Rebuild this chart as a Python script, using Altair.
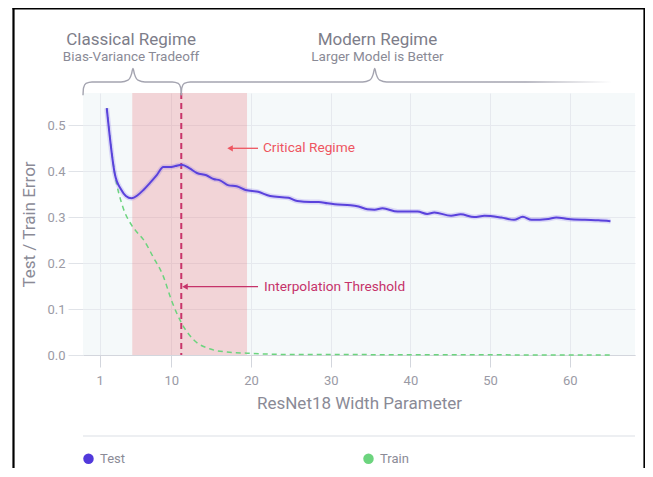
import altair as alt
import pandas as pd

# ---------------- data ----------------
test_x = [1.9, 2.9, 3.7, 4.3, 5.0, 5.8, 6.5, 7.3, 8.2, 9.0, 9.8, 10.5, 11.3, 12.3, 13.2,
          14.4, 15.3, 16.1, 17.2, 18.2, 19.3, 20.9, 22.4, 24.7, 25.8, 27.5, 28.5, 29.6,
          30.5, 32.5, 33.5, 34.6, 35.5, 36.5, 38.4, 40.9, 42.1, 43.0, 45.1, 46.3, 48.0,
          49.3, 51.4, 53.0, 54.1, 55.2, 57.3, 58.3, 59.8, 61.9, 63.6, 65.1]
test_y = [0.537, 0.395, 0.360, 0.346, 0.341, 0.348, 0.359, 0.374, 0.392, 0.409, 0.409,
          0.411, 0.414, 0.406, 0.396, 0.391, 0.383, 0.380, 0.369, 0.367, 0.359, 0.355,
          0.346, 0.342, 0.335, 0.333, 0.333, 0.330, 0.328, 0.326, 0.323, 0.317, 0.316,
          0.319, 0.312, 0.312, 0.307, 0.310, 0.303, 0.306, 0.300, 0.303, 0.299, 0.294,
          0.301, 0.294, 0.296, 0.299, 0.296, 0.294, 0.293, 0.291]

train_x = [1.9, 2.9, 3.9, 5.0, 5.8, 6.5, 7.7, 9.0, 10.0, 11.3, 12.8, 14.9, 17.0, 19.5,
           22.0, 26.0, 30.0, 40.0, 50.0, 65.1]
train_y = [0.537, 0.395, 0.323, 0.283, 0.265, 0.251, 0.214, 0.171, 0.120, 0.069, 0.033,
           0.013, 0.0065, 0.004, 0.002, 0.001, 0.001, 0.0005, 0.0003, 0.0002]

series_names = ["Test", "Train"]
series_colors = ["#5139db", "#6cd47e"]

x_ticks = [1, 10, 20, 30, 40, 50, 60]
y_ticks = [0.0, 0.1, 0.2, 0.3, 0.4, 0.5]
x_domain = [-1.08, 68.18]
y_domain = [0.0, 0.57]

critical_band = [5.1, 19.5]
interp_threshold = 11.25

regime_titles = ["Classical Regime", "Modern Regime"]
regime_subtitles = ["Bias-Variance Tradeoff", "Larger Model is Better"]
regime_centers = [4.95, 35.87]
regime_title_y = 0.685
regime_sub_y = 0.648

# braces (left, tip, right) in width-parameter units
classical_brace = [-1.08, 5.19, 11.25]
modern_brace = [11.25, 35.52, 65.3]

annot_texts = ["Critical Regime", "Interpolation Threshold"]
annot_colors = ["#ee5560", "#c6336a"]
annot_y = [0.4497, 0.1486]
annot_text_x = [21.5, 21.63]
annot_tail_x = [20.88, 20.88]
annot_tip_x = [17.37, 11.72]

# ---------------- helpers ----------------
FONT = "Roboto"
LABEL_COLOR = "#9a9aa5"
TITLE_COLOR = "#8a8a96"
GRID = "#e6e9ee"

xs = alt.Scale(domain=x_domain, nice=False, zero=False)
ys = alt.Scale(domain=y_domain, nice=False, zero=False)

x_axis = alt.Axis(
    values=x_ticks, title="ResNet18 Width Parameter", grid=True, gridColor=GRID,
    tickSize=12, tickColor="#d3d6dd", domainColor="#d3d6dd", labelPadding=7,
    titlePadding=8, labelFontSize=13, titleFontSize=17, labelColor=LABEL_COLOR,
    titleColor=TITLE_COLOR, titleFontWeight="normal", labelFont=FONT, titleFont=FONT)
y_axis = alt.Axis(
    values=y_ticks, format=".1f", title="Test / Train Error", grid=True, gridColor=GRID,
    tickSize=15, tickColor="#e0e3e8", domain=False, labelPadding=3, titlePadding=8,
    labelFontSize=13, titleFontSize=17, labelColor=LABEL_COLOR, titleColor=TITLE_COLOR,
    titleFontWeight="normal", labelFont=FONT, titleFont=FONT)


def X(field):
    return alt.X(field, scale=xs, axis=x_axis)


def Y(field):
    return alt.Y(field, scale=ys, axis=y_axis)


def brace_points(xl, xc, xr, closed_right=True):
    px = 0.1255  # one pixel in x units
    yb, yh, y1, y2, y3 = 0.565, 0.594, 0.598, 0.611, 0.6234
    pts = [(xl, yb), (xl + 0.5 * px, 0.581), (xl + 3 * px, 0.5907), (xl + 9 * px, yh),
           (xc - 12 * px, yh), (xc - 5 * px, y1), (xc - 1.5 * px, y2), (xc, y3),
           (xc + 1.5 * px, y2), (xc + 5 * px, y1), (xc + 12 * px, yh)]
    if closed_right:
        pts += [(xr - 9 * px, yh), (xr - 3 * px, 0.5907), (xr - 0.5 * px, 0.581), (xr, yb)]
    else:
        pts += [(xr, yh)]
    return pd.DataFrame({"x": [p[0] for p in pts], "y": [p[1] for p in pts],
                         "o": list(range(len(pts)))})


test_df = pd.DataFrame({"x": test_x, "y": test_y})
train_df = pd.DataFrame({"x": train_x, "y": train_y})
legend_df = pd.DataFrame({"x": [test_x[0], train_x[0]], "y": [test_y[0], train_y[0]],
                          "series": series_names})

# ---------------- layers ----------------
band = alt.Chart(pd.DataFrame({"x": [critical_band[0]], "x2": [critical_band[1]]})).mark_rect(
    color="#e8505a", opacity=0.22
).encode(x=X("x:Q"), x2="x2:Q", y=alt.value(0), y2=alt.value(262))

threshold = alt.Chart(pd.DataFrame({"x": [interp_threshold]})).mark_rule(
    color="#c8356a", strokeWidth=2, strokeDash=[6, 4]
).encode(x=X("x:Q"))

train_line = alt.Chart(train_df).mark_line(
    color=series_colors[1], strokeWidth=1.5, strokeDash=[5, 4], interpolate="monotone"
).encode(x=X("x:Q"), y=Y("y:Q"))

test_halo = alt.Chart(test_df).mark_line(
    color="#7a64e8", strokeWidth=5, opacity=0.22, interpolate="monotone"
).encode(x=X("x:Q"), y=Y("y:Q"))

test_line = alt.Chart(test_df).mark_line(
    color="#5a42dc", strokeWidth=2, interpolate="monotone"
).encode(x=X("x:Q"), y=Y("y:Q"))

legend_pts = alt.Chart(legend_df).mark_point(filled=True, opacity=0, size=1).encode(
    x=X("x:Q"), y=Y("y:Q"),
    color=alt.Color("series:N", scale=alt.Scale(domain=series_names, range=series_colors),
                    legend=alt.Legend(
                        title=None, orient="none", legendX=-1, legendY=359,
                        direction="horizontal", symbolType="circle", symbolSize=110,
                        symbolOpacity=1, symbolStrokeWidth=0, labelFontSize=13,
                        labelColor="#8b8b97", labelFont=FONT, labelOffset=5,
                        columnPadding=237, padding=0)),
)

annot_df = pd.DataFrame({"text": annot_texts, "color": annot_colors, "y": annot_y,
                         "tx": annot_text_x, "tail": annot_tail_x, "tip": annot_tip_x})

arrow_shaft = alt.Chart(annot_df).mark_rule(strokeWidth=1.3).encode(
    x=X("tip:Q"), x2="tail:Q", y=Y("y:Q"),
    color=alt.Color("color:N", scale=None, legend=None),
)
arrow_head = alt.Chart(annot_df).mark_point(shape="triangle-left", filled=True, size=40,
                                            opacity=1).encode(
    x=X("tip:Q"), y=Y("y:Q"),
    color=alt.Color("color:N", scale=None, legend=None),
)
arrow_text = alt.Chart(annot_df).mark_text(align="left", baseline="middle", fontSize=13.7,
                                           font=FONT).encode(
    x=X("tx:Q"), y=Y("y:Q"), text="text:N",
    color=alt.Color("color:N", scale=None, legend=None),
)

regime_df = pd.DataFrame({"x": regime_centers, "title": regime_titles,
                          "sub": regime_subtitles, "ty": [regime_title_y] * 2,
                          "sy": [regime_sub_y] * 2})
regime_title = alt.Chart(regime_df).mark_text(fontSize=17, color="#7d7d89", font=FONT,
                                              baseline="middle").encode(
    x=X("x:Q"), y=Y("ty:Q"), text="title:N")
regime_sub = alt.Chart(regime_df).mark_text(fontSize=13.5, color="#8a8a96", font=FONT,
                                            baseline="middle").encode(
    x=X("x:Q"), y=Y("sy:Q"), text="sub:N")

brace1 = alt.Chart(brace_points(*classical_brace)).mark_line(
    color="#a4a4b0", strokeWidth=1.4, interpolate="monotone"
).encode(x=X("x:Q"), y=Y("y:Q"), order="o:Q")

brace2 = alt.Chart(brace_points(*modern_brace, closed_right=False)).mark_line(
    strokeWidth=1.4, interpolate="monotone",
    stroke=alt.Gradient(gradient="linear", x1=0, x2=1, y1=0, y2=0,
                        stops=[alt.GradientStop(color="#a4a4b0", offset=0),
                               alt.GradientStop(color="#a4a4b0", offset=0.8),
                               alt.GradientStop(color="#ffffff", offset=1)])
).encode(x=X("x:Q"), y=Y("y:Q"), order="o:Q")

one = pd.DataFrame({"a": [0]})
separator = alt.Chart(one).mark_rule(color="#dcdfe5", strokeWidth=1.2).encode(
    x=alt.value(0), x2=alt.value(552), y=alt.value(343))
frame_left = alt.Chart(one).mark_rule(color="#000000", strokeWidth=2.2).encode(
    x=alt.value(-69.5), y=alt.value(-85), y2=alt.value(380))
frame_top = alt.Chart(one).mark_rule(color="#000000", strokeWidth=2.2).encode(
    y=alt.value(-84.5), x=alt.value(-70.5), x2=alt.value(563))
frame_right = alt.Chart(one).mark_rule(color="#000000", strokeWidth=2.2).encode(
    x=alt.value(561.5), y=alt.value(-85), y2=alt.value(380))

chart = alt.layer(
    band, threshold, train_line, test_halo, test_line, legend_pts,
    arrow_shaft, arrow_head, arrow_text, regime_title, regime_sub, brace1, brace2,
    separator, frame_left, frame_top, frame_right,
).properties(
    width=552, height=262,
    padding={"left": 75, "top": 85, "right": 10, "bottom": 113},
    autosize=alt.AutoSizeParams(type="none"),
).configure(font=FONT).configure_view(fill="#f5f9fa", stroke=None)

chart.save("out.html", embed_options={"renderer": "svg", "actions": False})
